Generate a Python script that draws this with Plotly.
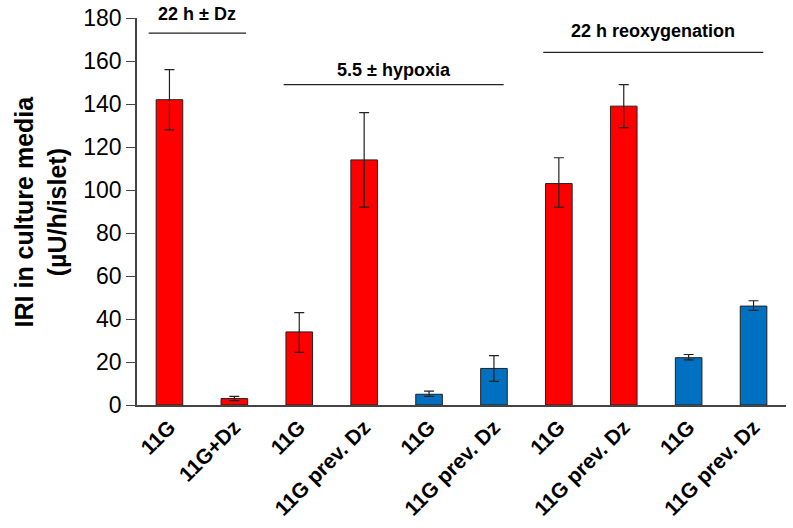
import plotly.graph_objects as go

labels = ["11G", "11G+Dz", "11G", "11G prev. Dz", "11G", "11G prev. Dz",
          "11G", "11G prev. Dz", "11G", "11G prev. Dz"]
values = [142, 3, 34, 114, 5, 17, 103, 139, 22, 46]
err_plus = [14, 1, 9, 22, 1.5, 6, 12, 10, 1.5, 2.5]
err_minus = [14, 1, 9.5, 22, 1, 6, 11, 10, 1, 2]
colors = ["#FF0000", "#FF0000", "#FF0000", "#FF0000", "#0070C0", "#0070C0",
          "#FF0000", "#FF0000", "#0070C0", "#0070C0"]

groups = ["22 h ± Dz", "5.5 ± hypoxia", "22 h reoxygenation"]
group_x0 = [-0.32, 1.76, 5.76]
group_x1 = [1.18, 5.15, 9.15]
group_line_y = [173, 149, 164]
group_text_y = [182, 156, 174]

FONT = "Liberation Sans, Arial, sans-serif"
x = list(range(len(values)))

fig = go.Figure(go.Bar(
    x=x, y=values,
    marker=dict(color=colors, line=dict(color="#222222", width=1)),
    width=0.41,
    error_y=dict(type="data", symmetric=False, array=err_plus, arrayminus=err_minus,
                 color="#222222", thickness=1.2, width=5),
))

for g, a, b, ly, ty in zip(groups, group_x0, group_x1, group_line_y, group_text_y):
    fig.add_shape(type="line", x0=a, x1=b, y0=ly, y1=ly, xref="x", yref="y",
                  line=dict(color="#222222", width=1.2))
    fig.add_annotation(x=(a + b) / 2, y=ty / 180, xref="x", yref="paper",
                       text="<b>" + g + "</b>",
                       showarrow=False, yanchor="middle",
                       font=dict(size=18, color="black", family=FONT))

fig.add_annotation(x=-0.148, y=0.5, xref="paper", yref="paper",
                   text="<b>IRI in culture media<br>(µU/h/islet)</b>",
                   textangle=-90, showarrow=False, xanchor="center", yanchor="middle",
                   font=dict(size=25, color="black", family=FONT))

fig.update_layout(
    width=793, height=528,
    margin=dict(l=137, r=7, t=18, b=123),
    plot_bgcolor="white", paper_bgcolor="white",
    showlegend=False,
    font=dict(family=FONT, color="black"),
)
fig.update_xaxes(
    range=[-0.5, 9.5], tickmode="array", tickvals=x,
    ticktext=["<b>" + l + "</b>" for l in labels], tickangle=-45,
    tickfont=dict(size=21, color="black"),
    showline=True, linecolor="#444444", linewidth=1.5, ticks="", showgrid=False,
    automargin=False, ticklabeloverflow="allow",
)
fig.update_yaxes(
    range=[0, 180], dtick=20, tick0=0,
    tickfont=dict(size=23, color="black"),
    showline=True, linecolor="#444444", linewidth=1.5,
    ticks="outside", ticklen=9, tickcolor="#444444", showgrid=False, zeroline=False,
    automargin=False, ticklabeloverflow="allow",
)

fig.write_html("out.html", config={"displayModeBar": False},
               post_script="document.body.style.margin='0';document.body.style.overflow='hidden';")
